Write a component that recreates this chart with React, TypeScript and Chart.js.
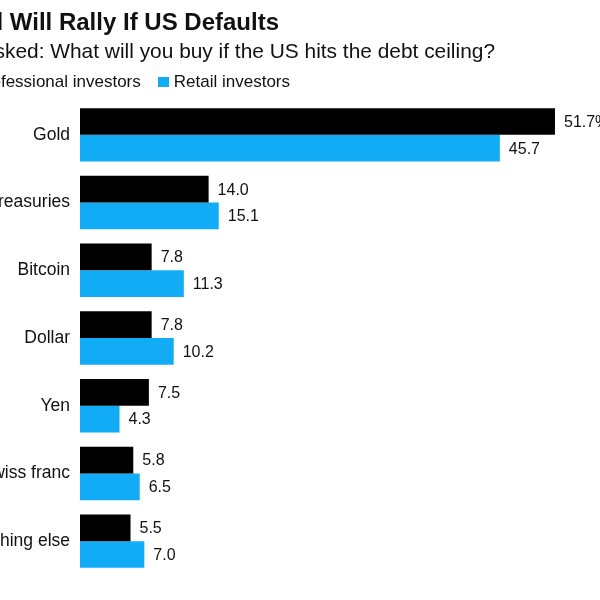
import React, { useEffect, useRef } from "react";
import { Chart, registerables } from "chart.js";

Chart.register(...registerables);

const categories = ["Gold", "Treasuries", "Bitcoin", "Dollar", "Yen", "Swiss franc", "Something else"];
const professional = [51.7, 14.0, 7.8, 7.8, 7.5, 5.8, 5.5];
const retail = [45.7, 15.1, 11.3, 10.2, 4.3, 6.5, 7.0];
const seriesNames = ["Professional investors", "Retail investors"];
const titleText = "Gold Will Rally If US Defaults";
const subtitleText = "Investors were asked: What will you buy if the US hits the debt ceiling?";

const BLACK = "#000000";
const BLUE = "#12acf6";
const FONT = '"Liberation Sans", Arial, Helvetica, sans-serif';

const valueLabels = {
  id: "valueLabels",
  afterDatasetsDraw(chart: any) {
    const ctx = chart.ctx;
    ctx.save();
    ctx.font = `16px ${FONT}`;
    ctx.fillStyle = "#111";
    ctx.textAlign = "left";
    ctx.textBaseline = "middle";
    chart.data.datasets.forEach((ds: any, di: number) => {
      const meta = chart.getDatasetMeta(di);
      meta.data.forEach((bar: any, i: number) => {
        const v = ds.data[i] as number;
        const txt = v.toFixed(1) + (di === 0 && i === 0 ? "%" : "");
        ctx.fillText(txt, bar.x + 9, bar.y + 1);
      });
    });
    ctx.restore();
  },
};

export default function App() {
  const ref = useRef<HTMLCanvasElement | null>(null);
  useEffect(() => {
    if (!ref.current) return;
    const chart = new Chart(ref.current, {
      type: "bar",
      data: {
        labels: categories,
        datasets: [
          { label: seriesNames[0], data: professional, backgroundColor: BLACK, borderWidth: 0, barPercentage: 1, categoryPercentage: 0.789 },
          { label: seriesNames[1], data: retail, backgroundColor: BLUE, borderWidth: 0, barPercentage: 1, categoryPercentage: 0.789 },
        ],
      },
      options: {
        indexAxis: "y",
        responsive: false,
        animation: false,
        layout: { padding: { top: 101, bottom: 25, left: 0, right: 0 } },
        plugins: { legend: { display: false }, tooltip: { enabled: false }, title: { display: false } },
        scales: {
          x: { display: false, min: 0, max: 56.6 },
          y: {
            grid: { display: false, drawTicks: false },
            border: { display: false },
            ticks: { color: "#111", padding: 10, font: { family: FONT, size: 17.5 } },
            afterFit: (scale: any) => {
              scale.width = 80;
            },
          },
        },
      },
      plugins: [valueLabels],
    });
    return () => chart.destroy();
  }, []);

  const base: React.CSSProperties = {
    position: "absolute",
    whiteSpace: "nowrap",
    fontFamily: FONT,
    color: "#111",
  };
  const sq = (c: string): React.CSSProperties => ({
    display: "inline-block",
    width: 11,
    height: 10,
    background: c,
    verticalAlign: "baseline",
    marginRight: 5,
  });

  return (
    <div style={{ position: "absolute", left: 0, top: 0, width: 600, height: 600, overflow: "hidden", background: "#fff" }}>
      <canvas ref={ref} width={600} height={600} style={{ position: "absolute", left: 0, top: 0, width: 600, height: 600 }} />
      <div style={{ ...base, right: 321, top: 9.7, fontSize: 24, lineHeight: "24px", fontWeight: 700 }}>{titleText}</div>
      <div style={{ ...base, right: 105, top: 40.7, fontSize: 20.9, lineHeight: "20.9px" }}>{subtitleText}</div>
      <div style={{ ...base, right: 310, top: 73, fontSize: 17, lineHeight: "17px" }}>
        <span style={sq(BLACK)} />
        {seriesNames[0]}
        <span style={{ display: "inline-block", width: 17 }} />
        <span style={sq(BLUE)} />
        {seriesNames[1]}
      </div>
    </div>
  );
}
